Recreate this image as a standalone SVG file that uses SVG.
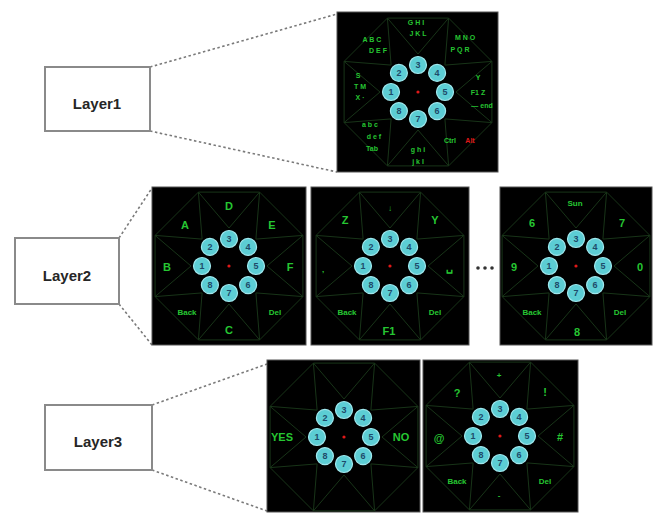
<svg xmlns="http://www.w3.org/2000/svg" xmlns:xlink="http://www.w3.org/1999/xlink" width="653" height="515" viewBox="0 0 653 515">
  <style>
    .layer-box { fill: #ffffff; stroke: #8a8a8a; stroke-width: 2; }
    .layer-text { font-family: "Liberation Sans", Arial, sans-serif; font-weight: bold; font-size: 15px; fill: #262626; text-anchor: middle; }
    .zoom-line { stroke: #7a7a7a; stroke-width: 1.6; stroke-dasharray: 2.5 2.5; fill: none; }
    .panel { fill: #000000; stroke: #555555; stroke-width: 1; }
    .grid { fill: none; stroke: #183418; stroke-width: 1; }
    .key { fill: #5ccdd4; stroke: #a0e8ee; stroke-width: 1.2; }
    .num { font-family: "Liberation Sans", Arial, sans-serif; font-weight: bold; font-size: 9px; fill: #1e4a6a; text-anchor: middle; }
    .lbl { font-family: "Liberation Sans", Arial, sans-serif; font-weight: bold; font-size: 11px; fill: #26c632; text-anchor: middle; }
    .sm { font-family: "Liberation Sans", Arial, sans-serif; font-weight: bold; font-size: 8px; fill: #26c632; text-anchor: middle; }
    .tiny { font-family: "Liberation Sans", Arial, sans-serif; font-weight: bold; font-size: 7px; fill: #26c632; text-anchor: middle; }
    .tiny.alt { fill: #e01818; }
    .red { fill: #e01818; }
  </style>
  <defs>
    <!-- one dial: star grid, eight numbered keys and a centre dot, centred on 0,0 -->
    <g id="dial">
      <polygon class="grid" points="73.9,30.6 30.6,73.9 -30.6,73.9 -73.9,30.6 -73.9,-30.6 -30.6,-73.9 30.6,-73.9 73.9,-30.6"/>
      <polygon class="grid" points="38,0 73.9,30.6 26.9,26.9 30.6,73.9 0,38 -30.6,73.9 -26.9,26.9 -73.9,30.6 -38,0 -73.9,-30.6 -26.9,-26.9 -30.6,-73.9 0,-38 30.6,-73.9 26.9,-26.9 73.9,-30.6"/>
      <circle class="key" cx="0" cy="-27" r="8.5"/>
      <circle class="key" cx="19.1" cy="-19.1" r="8.5"/>
      <circle class="key" cx="27" cy="0" r="8.5"/>
      <circle class="key" cx="19.1" cy="19.1" r="8.5"/>
      <circle class="key" cx="0" cy="27" r="8.5"/>
      <circle class="key" cx="-19.1" cy="19.1" r="8.5"/>
      <circle class="key" cx="-27" cy="0" r="8.5"/>
      <circle class="key" cx="-19.1" cy="-19.1" r="8.5"/>
      <text class="num" x="0" y="-23.8">3</text>
      <text class="num" x="19.1" y="-15.9">4</text>
      <text class="num" x="27" y="3.2">5</text>
      <text class="num" x="19.1" y="22.3">6</text>
      <text class="num" x="0" y="30.2">7</text>
      <text class="num" x="-19.1" y="22.3">8</text>
      <text class="num" x="-27" y="3.2">1</text>
      <text class="num" x="-19.1" y="-15.9">2</text>
      <circle class="red" cx="0" cy="0" r="1.6"/>
    </g>
  </defs>

  <rect width="653" height="515" fill="#ffffff"/>

  <!-- zoom guides from the layer boxes to their panels -->
  <g id="connectors">
    <line class="zoom-line" x1="150" y1="67" x2="337" y2="14"/>
    <line class="zoom-line" x1="150" y1="131" x2="337" y2="172"/>
    <line class="zoom-line" x1="119" y1="238" x2="152" y2="188"/>
    <line class="zoom-line" x1="119" y1="304" x2="152" y2="345"/>
    <line class="zoom-line" x1="152" y1="405" x2="267" y2="364"/>
    <line class="zoom-line" x1="152" y1="470" x2="267" y2="511"/>
  </g>

  <!-- layer labels -->
  <g id="layer1-label">
    <rect class="layer-box" x="45" y="67" width="105" height="64"/>
    <text class="layer-text" x="97" y="109">Layer1</text>
  </g>
  <g id="layer2-label">
    <rect class="layer-box" x="15" y="238" width="104" height="66"/>
    <text class="layer-text" x="67" y="281">Layer2</text>
  </g>
  <g id="layer3-label">
    <rect class="layer-box" x="45" y="405" width="107" height="65"/>
    <text class="layer-text" x="98" y="447">Layer3</text>
  </g>

  <!-- Layer 1: full character dial -->
  <g id="layer1-panel">
    <rect class="panel" x="337" y="12" width="161" height="160"/>
    <use xlink:href="#dial" href="#dial" transform="translate(418,92)"/>
    <text class="tiny" x="416" y="25">G H I</text>
    <text class="tiny" x="418" y="36">J K L</text>
    <text class="tiny" x="372" y="42">A B C</text>
    <text class="tiny" x="378" y="53">D E F</text>
    <text class="tiny" x="465" y="40">M N O</text>
    <text class="tiny" x="460" y="52">P Q R</text>
    <text class="tiny" x="358" y="78">S</text>
    <text class="tiny" x="360" y="89">T  M</text>
    <text class="tiny" x="360" y="100">X  ·</text>
    <text class="tiny" x="478" y="80">Y</text>
    <text class="tiny" x="478" y="95">F1  Z</text>
    <text class="tiny" x="482" y="108">—  end</text>
    <text class="tiny" x="370" y="127">a b c</text>
    <text class="tiny" x="374" y="139">d e f</text>
    <text class="tiny" x="372" y="151">Tab</text>
    <text class="tiny" x="418" y="152">g h i</text>
    <text class="tiny" x="418" y="164">j k l</text>
    <text class="tiny" x="450" y="143">Ctrl</text>
    <text class="tiny alt" x="470" y="143">Alt</text>
  </g>

  <!-- Layer 2: letter sub-dials -->
  <g id="layer2-panel-a">
    <rect class="panel" x="152" y="187" width="154" height="158"/>
    <use xlink:href="#dial" href="#dial" transform="translate(229,266)"/>
    <text class="lbl" x="229" y="210">D</text>
    <text class="lbl" x="185" y="229">A</text>
    <text class="lbl" x="272" y="229">E</text>
    <text class="lbl" x="167" y="271">B</text>
    <text class="lbl" x="290" y="271">F</text>
    <text class="sm" x="187" y="315">Back</text>
    <text class="sm" x="275" y="315">Del</text>
    <text class="lbl" x="229" y="334">C</text>
  </g>
  <g id="layer2-panel-b">
    <rect class="panel" x="311" y="187" width="158" height="158"/>
    <use xlink:href="#dial" href="#dial" transform="translate(390,266)"/>
    <text class="sm" x="390" y="211">↓</text>
    <text class="lbl" x="345" y="224">Z</text>
    <text class="lbl" x="435" y="224">Y</text>
    <text class="sm" x="323" y="272">,</text>
    <text class="lbl" x="449" y="271">␣</text>
    <text class="sm" x="347" y="315">Back</text>
    <text class="sm" x="435" y="315">Del</text>
    <text class="lbl" x="389" y="335">F1</text>
  </g>
  <g id="layer2-ellipsis">
    <circle cx="478" cy="268" r="1.8" fill="#333"/>
    <circle cx="485" cy="268" r="1.8" fill="#333"/>
    <circle cx="492" cy="268" r="1.8" fill="#333"/>
  </g>
  <g id="layer2-panel-c">
    <rect class="panel" x="500" y="187" width="152" height="158"/>
    <use xlink:href="#dial" href="#dial" transform="translate(576,266)"/>
    <text class="sm" x="575" y="206">Sun</text>
    <text class="lbl" x="532" y="227">6</text>
    <text class="lbl" x="622" y="227">7</text>
    <text class="lbl" x="514" y="271">9</text>
    <text class="lbl" x="640" y="271">0</text>
    <text class="sm" x="532" y="315">Back</text>
    <text class="sm" x="620" y="315">Del</text>
    <text class="lbl" x="577" y="336">8</text>
  </g>

  <!-- Layer 3: confirmation and symbol dials -->
  <g id="layer3-panel-a">
    <rect class="panel" x="267" y="360" width="153" height="152"/>
    <use xlink:href="#dial" href="#dial" transform="translate(344,437)"/>
    <text class="lbl" x="282" y="441">YES</text>
    <text class="lbl" x="401" y="441">NO</text>
  </g>
  <g id="layer3-panel-b">
    <rect class="panel" x="423" y="360" width="155" height="152"/>
    <use xlink:href="#dial" href="#dial" transform="translate(500,436)"/>
    <text class="sm" x="499" y="378">+</text>
    <text class="lbl" x="457" y="397">?</text>
    <text class="lbl" x="545" y="396">!</text>
    <text class="lbl" x="439" y="442">@</text>
    <text class="lbl" x="560" y="441">#</text>
    <text class="sm" x="457" y="484">Back</text>
    <text class="sm" x="545" y="484">Del</text>
    <text class="sm" x="499" y="498">-</text>
  </g>
</svg>
